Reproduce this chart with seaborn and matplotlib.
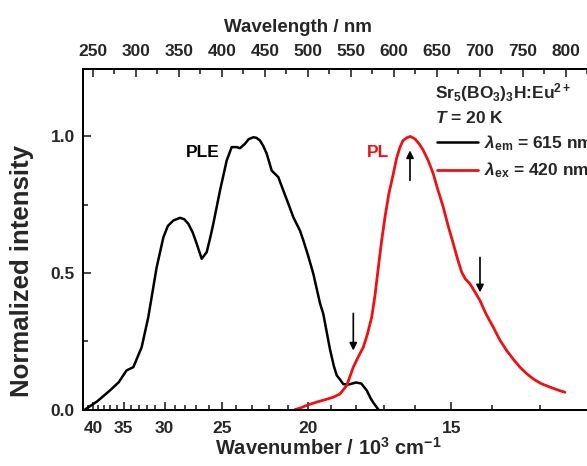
import matplotlib
matplotlib.use("Agg")
import matplotlib.pyplot as plt
import numpy as np
import pandas as pd
import seaborn as sns
from matplotlib.lines import Line2D
from matplotlib.ticker import FixedLocator, MultipleLocator

# ---- data (wavelength in nm, normalized intensity) ----
ple_wavelength = [240.8, 255, 269.8, 280, 289, 296.9, 306.6, 314.3, 324, 331.8, 337, 343.4,
                  351.2, 356, 360.9, 366, 370.6, 376.4, 382.2, 386, 389.9, 397.7, 405.5,
                  411.3, 417.1, 420.9, 426.7, 431, 436.4, 440, 444.2, 448, 452, 457.8,
                  465.5, 471.3, 477, 483, 490.7, 494.5, 500, 506.2, 513.9, 517.8, 525.6,
                  530, 533.4, 537.2, 541, 548, 556, 562, 568.3, 573, 576, 581.8]
ple_intensity = [0.0, 0.03, 0.07, 0.10, 0.143, 0.155, 0.228, 0.338, 0.52, 0.63, 0.672, 0.692,
                 0.702, 0.697, 0.68, 0.648, 0.607, 0.552, 0.576, 0.625, 0.68, 0.802, 0.912,
                 0.961, 0.961, 0.957, 0.973, 0.99, 0.997, 0.995, 0.985, 0.965, 0.937, 0.875,
                 0.851, 0.802, 0.755, 0.704, 0.655, 0.62, 0.565, 0.497, 0.39, 0.35, 0.22,
                 0.16, 0.125, 0.11, 0.093, 0.092, 0.099, 0.095, 0.07, 0.04, 0.025, 0.0]

pl_wavelength = [484.9, 490.7, 500, 510, 520, 529.4, 537.2, 545, 552.7, 558, 564.3,
                 569, 574.1, 578, 581.8, 585.5, 589.5, 594, 599.2, 603, 607, 610.5, 614.8,
                 619, 624.4, 629, 634.1, 640, 645.7, 651, 657.3, 663, 669, 674, 678.7,
                 683, 688.4, 694, 700, 707, 715.5, 723, 731, 739, 746.5, 754, 762,
                 771, 781.4, 790, 798.8]
pl_intensity = [0.0, 0.005, 0.017, 0.027, 0.036, 0.045, 0.057, 0.088, 0.155, 0.19, 0.228,
                0.275, 0.338, 0.42, 0.521, 0.615, 0.704, 0.79, 0.863, 0.92, 0.961, 0.985,
                0.995, 1.0, 0.991, 0.974, 0.949, 0.91, 0.863, 0.805, 0.741, 0.672, 0.607,
                0.55, 0.503, 0.478, 0.46, 0.431, 0.399, 0.35, 0.301, 0.255, 0.216, 0.183,
                0.155, 0.132, 0.112, 0.095, 0.082, 0.072, 0.063]

wavenumber_major = [40, 35, 30, 25, 20, 15]          # 10^3 cm^-1
wavenumber_minor = list(range(13, 42))
wavelength_major = list(range(250, 801, 50))        # nm
y_ticks = [0.0, 0.5, 1.0]
y_tick_labels = ["0.0", "0.5", "1.0"]

arrow_x = [552.7, 618.6, 700.0]
arrow_from = [0.352, 0.839, 0.557]
arrow_to = [0.216, 0.949, 0.429]

# ---- style ----
sns.set_style("ticks")
plt.rcParams["font.family"] = ["Liberation Sans", "DejaVu Sans"]
plt.rcParams.update({
    "font.weight": "bold",
    "axes.labelweight": "bold",
    "mathtext.fontset": "custom",
    "mathtext.rm": "Liberation Sans:bold",
    "mathtext.bf": "Liberation Sans:bold",
    "mathtext.it": "Liberation Sans:italic:bold",
    "mathtext.default": "regular",
    "axes.edgecolor": "black",
    "axes.linewidth": 1.3,
})

W, H = 587, 466
AXW, AXH = 517.4, 340.5
fig = plt.figure(figsize=(W / 100, H / 100), dpi=100)
ax = fig.add_axes([83 / W, 56.5 / H, AXW / W, AXH / H])

df_ple = pd.DataFrame({"wavelength": ple_wavelength, "intensity": ple_intensity})
df_pl = pd.DataFrame({"wavelength": pl_wavelength, "intensity": pl_intensity})
sns.lineplot(data=df_ple, x="wavelength", y="intensity", ax=ax, color="black",
             lw=1.8, sort=False, estimator=None)
sns.lineplot(data=df_pl, x="wavelength", y="intensity", ax=ax, color="#ee1111",
             lw=2.0, sort=False, estimator=None)

ax.set_xlim(238.4, 840)
ax.set_ylim(0, 1.247)

# bottom axis: wavenumber labels placed on the wavelength scale
ax.set_xticks([1e4 / k for k in wavenumber_major])
ax.set_xticklabels([str(k) for k in wavenumber_major])
ax.xaxis.set_minor_locator(FixedLocator([1e4 / k for k in wavenumber_minor
                                         if k not in wavenumber_major]))
ax.set_yticks(y_ticks)
ax.set_yticklabels(y_tick_labels)
ax.yaxis.set_minor_locator(MultipleLocator(0.25))
ax.tick_params(axis="both", which="both", direction="in", top=False, right=False,
               labelsize=12.5, width=1.2)
ax.tick_params(axis="both", which="major", length=6)
ax.tick_params(axis="both", which="minor", length=3.5)
ax.tick_params(axis="x", which="major", pad=8)
ax.tick_params(axis="y", which="major", pad=6)

ax.set_xlabel("Wavenumber / 10$^{3}$ cm$^{-1}$", fontsize=14.5, fontweight="bold")
ax.set_ylabel("Normalized intensity", fontsize=18.5, fontweight="bold")
ax.xaxis.set_label_coords((328 - 83) / AXW, -(437 - 409.5) / AXH)
ax.yaxis.set_label_coords(-(83 - 34) / AXW, (409.5 - 271) / AXH)

# top axis: wavelength
ax2 = ax.twiny()
ax2.set_xlim(ax.get_xlim())
ax2.set_xticks(wavelength_major)
ax2.set_xticklabels([str(v) for v in wavelength_major])
ax2.xaxis.set_minor_locator(MultipleLocator(25))
ax2.tick_params(axis="x", which="both", direction="in", labelsize=12.5, width=1.2)
ax2.tick_params(axis="x", which="major", length=6, pad=7)
ax2.tick_params(axis="x", which="minor", length=3.5)
ax2.set_xlabel("Wavelength / nm", fontsize=13.5, fontweight="bold")
ax2.xaxis.set_label_coords((297.5 - 83) / AXW, 1 + (69 - 32) / AXH)

# arrows
for x0, y0, y1 in zip(arrow_x, arrow_from, arrow_to):
    ax.annotate("", xy=(x0, y1), xytext=(x0, y0),
                arrowprops=dict(arrowstyle="-|>", color="black", lw=1.2,
                                mutation_scale=11, shrinkA=0, shrinkB=0))

# labels
ax.text(378, 0.942, "PLE", fontsize=12.5, fontweight="bold", ha="center", va="center",
        color="black")
ax.text(581.5, 0.942, "PL", fontsize=12.5, fontweight="bold", ha="center", va="center",
        color="#ee1111")
ax.text(647.7, 1.161, "Sr$_5$(BO$_3$)$_3$H:Eu$^{2+}$", fontsize=12.5,
        fontweight="bold", ha="left", va="center")
ax.text(647.7, 1.066, r"$\mathit{T}$ = 20 K", fontsize=12.5, fontweight="bold",
        ha="left", va="center")

handles = [Line2D([], [], color="black", lw=1.8), Line2D([], [], color="#ee1111", lw=2.0)]
labels = [r"$\mathit{\lambda}_{\rm em}$ = 615 nm", r"$\mathit{\lambda}_{\rm ex}$ = 420 nm"]
ax.legend(handles, labels, loc="upper left", bbox_to_anchor=(649.7, 1.012),
          bbox_transform=ax.transData, frameon=False, fontsize=12.5,
          handlelength=2.4, handletextpad=0.35, borderpad=0, borderaxespad=0,
          labelspacing=0.45)

fig.savefig("out.png", dpi=100)
